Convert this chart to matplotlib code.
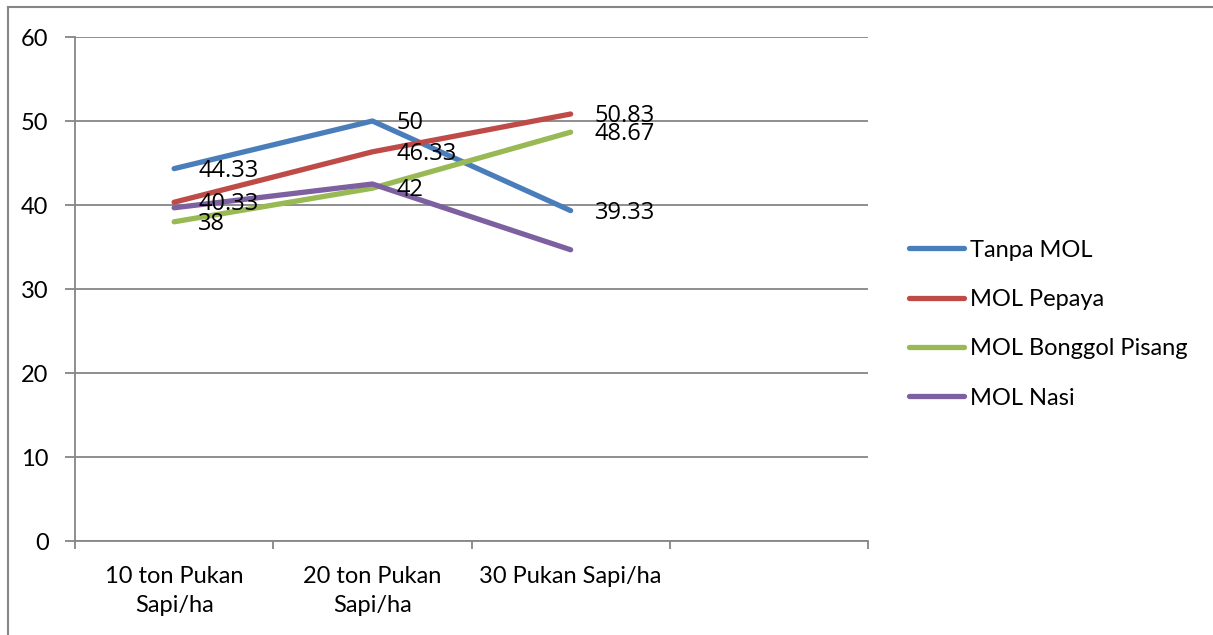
import numpy as np
import matplotlib
matplotlib.use("Agg")
import matplotlib.pyplot as plt
from matplotlib.lines import Line2D

# data
categories = ["10 ton Pukan\nSapi/ha", "20 ton Pukan\nSapi/ha", "30 Pukan Sapi/ha"]
tanpa_mol = [44.33, 50, 39.33]
mol_pepaya = [40.33, 46.33, 50.83]
mol_bonggol = [38, 42, 48.67]
mol_nasi = [39.67, 42.5, 34.67]
series_names = ["Tanpa MOL", "MOL Pepaya", "MOL Bonggol Pisang", "MOL Nasi"]
y_ticks = [0, 10, 20, 30, 40, 50, 60]

series = [tanpa_mol, mol_pepaya, mol_bonggol, mol_nasi]
colors = ["#4A7EBB", "#BE4B48", "#98B954", "#7D60A0"]
show_labels = [True, True, True, False]

GRAY = "#868686"
FONT = "Lato"

fig = plt.figure(figsize=(12.13, 6.35), dpi=100)
ax = fig.add_axes([75 / 1213, 94 / 635, 793 / 1213, 504 / 635])

x = np.arange(len(categories)) + 0.5

for vals, col, name, lab in zip(series, colors, series_names, show_labels):
    ax.plot(x, vals, color=col, lw=3.8, solid_capstyle="round",
            solid_joinstyle="round", label=name, zorder=3)
    if lab:
        for xi, v in zip(x, vals):
            ax.annotate(f"{v:g}", (xi, v), xytext=(24, -2),
                        textcoords="offset pixels", va="center", ha="left",
                        fontsize=17, family="Open Sans", color="black",
                        zorder=4)

ax.set_xlim(0, 4)
ax.set_ylim(0, 60)
ax.set_yticks(y_ticks)
ax.set_yticklabels([str(t) for t in y_ticks], family=FONT, fontsize=17)

# category boundaries get tick marks, labels sit in the middle of each slot
ax.set_xticks([0, 1, 2, 3, 4])
ax.set_xticklabels([])
ax.set_xticks(x, minor=True)
ax.set_xticklabels(categories, minor=True, family=FONT, fontsize=17,
                   linespacing=1.45)
ax.tick_params(axis="x", which="minor", length=0, pad=18)
ax.tick_params(axis="x", which="major", length=6, color=GRAY, width=1.3)
ax.tick_params(axis="y", length=7, color=GRAY, width=1.3, pad=12)

ax.yaxis.grid(True, color=GRAY, lw=1.3)
ax.set_axisbelow(True)
for s in ["top", "right"]:
    ax.spines[s].set_visible(False)
for s in ["left", "bottom"]:
    ax.spines[s].set_color(GRAY)
    ax.spines[s].set_linewidth(1.3)

handles = [Line2D([], [], color=c, lw=3.8, solid_capstyle="round") for c in colors]
fig.legend(handles, series_names, loc="center left",
           bbox_to_anchor=(900 / 1213, 1 - 324 / 635), frameon=False,
           prop={"family": FONT, "size": 17}, handlelength=2.3,
           handletextpad=0.25, labelspacing=1.2, borderaxespad=0)

# outer chart frame (only left and top edges visible)
fig.add_artist(Line2D([8 / 1213, 8 / 1213], [0, 1 - 7 / 635],
                      transform=fig.transFigure, color=GRAY, lw=1.5))
fig.add_artist(Line2D([8 / 1213, 1], [1 - 7 / 635, 1 - 7 / 635],
                      transform=fig.transFigure, color=GRAY, lw=1.5))

fig.savefig("out.png", dpi=100, facecolor="white")
